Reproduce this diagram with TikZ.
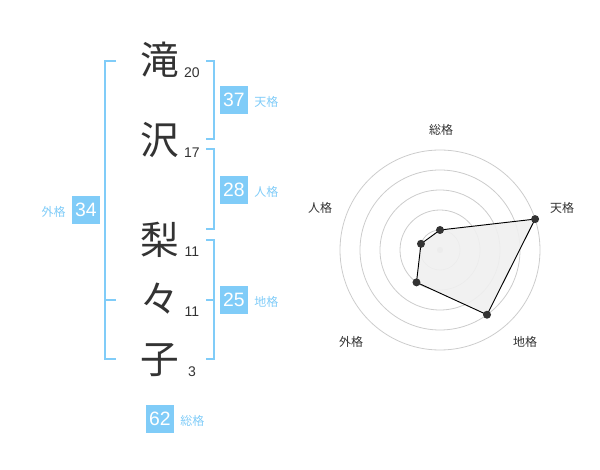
\documentclass[tikz,border=0pt]{standalone}
\usepackage{fontspec}
\setmainfont{Liberation Sans}
\newfontfamily\jp{Noto Sans CJK JP}
\definecolor{sky}{HTML}{80CCF8}
\definecolor{ink}{HTML}{333333}
\definecolor{ring}{HTML}{CCCCCC}
\begin{document}
\begin{tikzpicture}[x=0.75pt,y=-0.75pt,
  kanji/.style={font=\jp\fontsize{29pt}{29pt}\selectfont, text=ink, inner sep=0},
  strokes/.style={font=\fontsize{10.5pt}{10.5pt}\selectfont, text=ink, inner sep=0, anchor=base},
  bracket/.style={draw=sky, line width=1.5pt},
  numbox/.style={fill=sky, text=white, minimum width=21.5pt, minimum height=21.5pt, inner sep=0, font=\fontsize{14.5pt}{14.5pt}\selectfont},
  tag/.style={text=sky, inner sep=0, font=\jp\fontsize{9pt}{9pt}\selectfont},
  radlab/.style={text=ink, inner sep=0, font=\jp\fontsize{9pt}{9pt}\selectfont},
  ringline/.style={draw=ring, line width=0.6pt},
  datadot/.style={circle, fill=ink, inner sep=0, minimum size=6pt}]
\useasboundingbox (0,0) rectangle (600,470);
% name characters
\node[kanji] (k1) at (160,60) {滝};
\node[kanji] (k2) at (160,140) {沢};
\node[kanji] (k3) at (160,240) {梨};
\node[kanji] (k4) at (160,299) {々};
\node[kanji] (k5) at (160,360) {子};
\node[strokes] (s1) at (192,78) {20};
\node[strokes] (s2) at (192,158) {17};
\node[strokes] (s3) at (192,257) {11};
\node[strokes] (s4) at (192,317) {11};
\node[strokes] (s5) at (192,377) {3};
% brackets
\draw[bracket] (116,61) -- (105,61) -- (105,359) -- (116,359);
\draw[bracket] (105,300) -- (116,300);
\draw[bracket] (206,61) -- (214,61) -- (214,139) -- (206,139);
\draw[bracket] (206,149) -- (214,149) -- (214,229) -- (206,229);
\draw[bracket] (206,240) -- (214,240) -- (214,359) -- (206,359);
\draw[bracket] (206,300) -- (214,300);
% boxes and tags
\node[numbox] (b1) at (234,100) {37};
\node[tag, anchor=west] (t1) at (254,102) {天格};
\node[numbox] (b2) at (234,190) {28};
\node[tag, anchor=west] (t2) at (254,192) {人格};
\node[numbox] (b3) at (234,300) {25};
\node[tag, anchor=west] (t3) at (254,302) {地格};
\node[numbox] (b4) at (86,210) {34};
\node[tag, anchor=east] (t4) at (66,212) {外格};
\node[numbox] (b5) at (160,419) {62};
\node[tag, anchor=west] (t5) at (180,421) {総格};
% radar chart
\begin{scope}[shift={(440,250)}, yscale=-1]
  \foreach \r in {20,40,60,80,100} \draw[ringline] (0,0) circle[radius=\r];
  \fill[ring] (0,0) circle[radius=3.2];
  \coordinate (pS) at (90:20);
  \coordinate (pT) at (18:100);
  \coordinate (pC) at (-54:80);
  \coordinate (pG) at (-126:40);
  \coordinate (pJ) at (162:20);
  \filldraw[fill=black!6, fill opacity=0.9, draw=black, line width=0.7pt] (pS) -- (pT) -- (pC) -- (pG) -- (pJ) -- cycle;
  \foreach \p in {pS,pT,pC,pG,pJ} \node[datadot] at (\p) {};
\end{scope}
\node[radlab] (rS) at (441,130) {総格};
\node[radlab] (rT) at (562,208) {天格};
\node[radlab] (rC) at (525,342) {地格};
\node[radlab] (rG) at (351,342) {外格};
\node[radlab] (rJ) at (320,208) {人格};
\end{tikzpicture}
\end{document}
